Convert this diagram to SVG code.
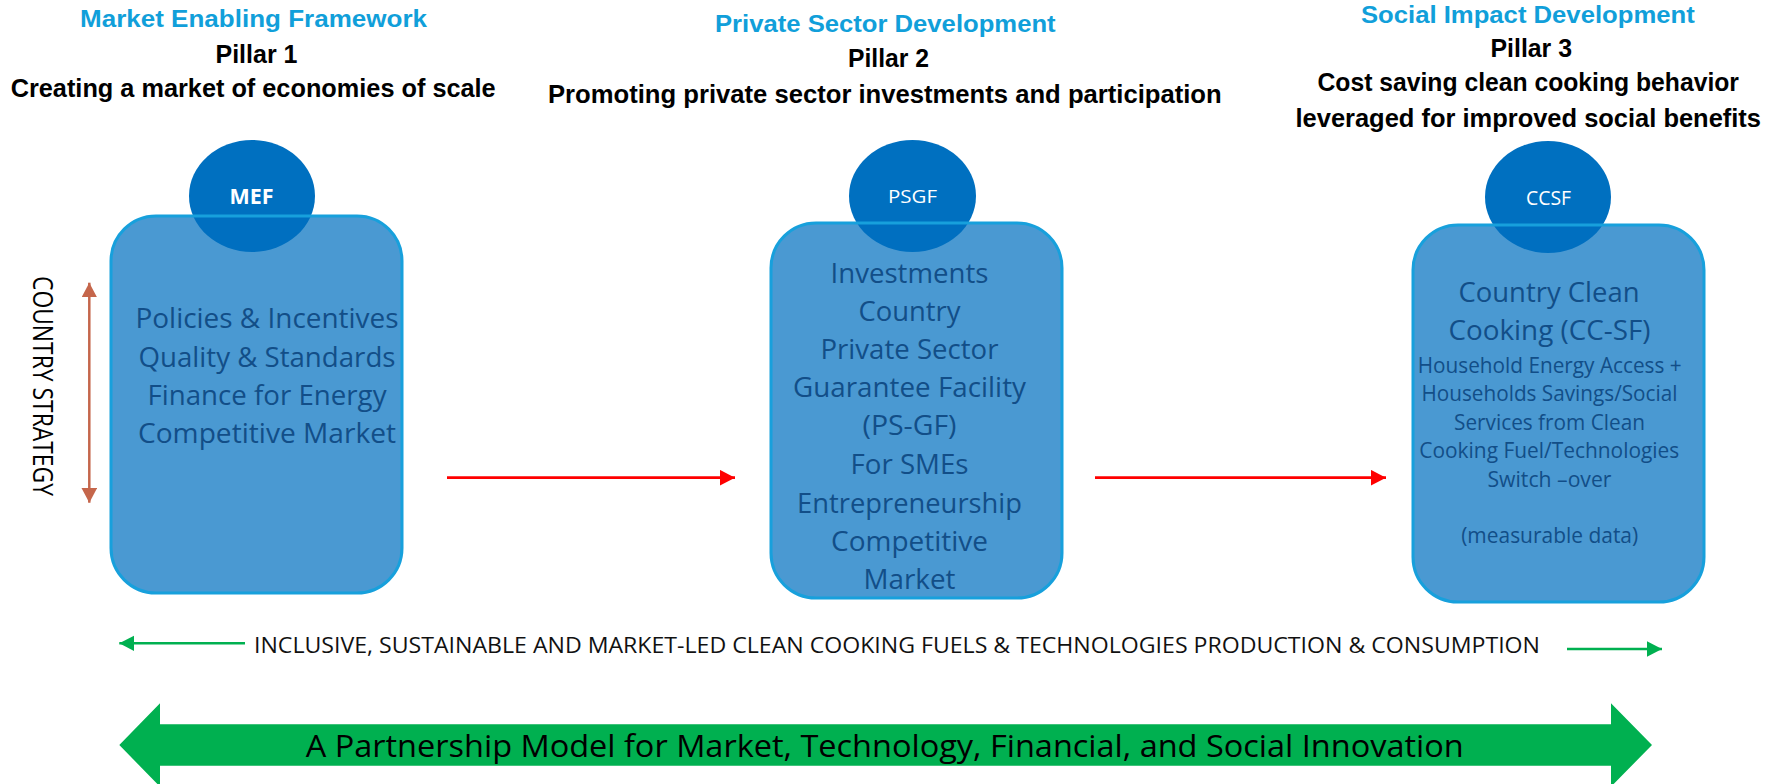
<svg xmlns="http://www.w3.org/2000/svg" width="1779" height="784" viewBox="0 0 1779 784">
<style>
text{font-family:"Open Sans","Noto Sans","Liberation Sans",sans-serif}
.hd{font-family:"Liberation Sans",Arial,sans-serif;font-weight:700;font-size:24.5px;fill:#119fda}
.pl{font-family:"Liberation Sans",Arial,sans-serif;font-weight:700;font-size:25px;fill:#000}
.box{fill:#0070c0;fill-opacity:0.71;stroke:#17a0dc;stroke-width:3}
.circ{fill:#0070c0}
.ctx{fill:#fff;text-anchor:middle}
.bt{font-size:27.5px;fill:#124e88;text-anchor:middle}
.st{font-size:21px;fill:#124e88;text-anchor:middle}
.red{stroke:#ff0000;stroke-width:2.7;fill:none}
.grn{stroke:#00b050;stroke-width:2.6;fill:none}
.brn{stroke:#c5664b;stroke-width:2.5;fill:none}
.lbl{font-size:22px;fill:#111}
</style>
<defs>
<marker id="hRed" markerUnits="userSpaceOnUse" markerWidth="16" markerHeight="16" refX="15" refY="7.8" orient="auto"><path d="M0,0 L15,7.8 L0,15.6 z" fill="#ff0000"/></marker>
<marker id="hGrn" markerUnits="userSpaceOnUse" markerWidth="16" markerHeight="16" refX="15" refY="7.8" orient="auto"><path d="M0,0 L15,7.8 L0,15.6 z" fill="#00b050"/></marker>
<marker id="hBrn" markerUnits="userSpaceOnUse" markerWidth="16" markerHeight="16" refX="14.7" refY="7.8" orient="auto-start-reverse"><path d="M0,0 L14.7,7.8 L0,15.6 z" fill="#c5664b"/></marker>
</defs>

<g id="headers">
<text class="hd" x="80" y="27" textLength="347" lengthAdjust="spacingAndGlyphs">Market Enabling Framework</text>
<text class="pl" x="215.5" y="63" textLength="82" lengthAdjust="spacingAndGlyphs">Pillar 1</text>
<text class="pl" x="10.7" y="97" textLength="485" lengthAdjust="spacingAndGlyphs">Creating a market of economies of scale</text>
<text class="hd" x="715" y="32" textLength="340.6" lengthAdjust="spacingAndGlyphs">Private Sector Development</text>
<text class="pl" x="848" y="67" textLength="81" lengthAdjust="spacingAndGlyphs">Pillar 2</text>
<text class="pl" x="548" y="103" textLength="673.7" lengthAdjust="spacingAndGlyphs">Promoting private sector investments and participation</text>
<text class="hd" x="1361" y="22.5" textLength="333.7" lengthAdjust="spacingAndGlyphs">Social Impact Development</text>
<text class="pl" x="1490.5" y="57" textLength="81.5" lengthAdjust="spacingAndGlyphs">Pillar 3</text>
<text class="pl" x="1739" y="91" text-anchor="end" textLength="421.5" lengthAdjust="spacingAndGlyphs">Cost saving clean cooking behavior</text>
<text class="pl" x="1761" y="127" text-anchor="end" textLength="465.5" lengthAdjust="spacingAndGlyphs">leveraged for improved social benefits</text>
</g>

<g id="country-strategy">
<line class="brn" x1="89.3" y1="282.7" x2="89.3" y2="502.7" marker-start="url(#hBrn)" marker-end="url(#hBrn)"/>
<text transform="translate(33,276) rotate(90)" x="0" y="0" font-size="27" fill="#000" textLength="220" lengthAdjust="spacingAndGlyphs">COUNTRY STRATEGY</text>
</g>

<g id="pillar1">
<ellipse class="circ" cx="252" cy="196" rx="63" ry="56"/>
<text class="ctx" x="251.5" y="204" font-size="21" font-weight="700" textLength="44" lengthAdjust="spacingAndGlyphs">MEF</text>
<rect class="box" x="111" y="216" width="291" height="377" rx="45" ry="45"/>
<text class="bt" x="267" y="328.3" textLength="263" lengthAdjust="spacingAndGlyphs">Policies &amp; Incentives</text>
<text class="bt" x="267" y="366.7" textLength="257" lengthAdjust="spacingAndGlyphs">Quality &amp; Standards</text>
<text class="bt" x="267" y="405" textLength="239" lengthAdjust="spacingAndGlyphs">Finance for Energy</text>
<text class="bt" x="267" y="443.3" textLength="258" lengthAdjust="spacingAndGlyphs">Competitive Market</text>
</g>

<g id="pillar2">
<ellipse class="circ" cx="912.5" cy="196" rx="63.5" ry="56"/>
<text class="ctx" x="912.5" y="203.3" font-size="19" textLength="49" lengthAdjust="spacingAndGlyphs">PSGF</text>
<rect class="box" x="771" y="223" width="291" height="375" rx="45" ry="45"/>
<text class="bt" x="909.5" y="282.7" textLength="158" lengthAdjust="spacingAndGlyphs">Investments</text>
<text class="bt" x="909.5" y="320.7" textLength="102" lengthAdjust="spacingAndGlyphs">Country</text>
<text class="bt" x="909.5" y="359.3" textLength="178" lengthAdjust="spacingAndGlyphs">Private Sector</text>
<text class="bt" x="909.5" y="397.3" textLength="233" lengthAdjust="spacingAndGlyphs">Guarantee Facility</text>
<text class="bt" x="909.5" y="435.3" textLength="94" lengthAdjust="spacingAndGlyphs">(PS-GF)</text>
<text class="bt" x="909.5" y="474" textLength="118" lengthAdjust="spacingAndGlyphs">For SMEs</text>
<text class="bt" x="909.5" y="512.7" textLength="225" lengthAdjust="spacingAndGlyphs">Entrepreneurship</text>
<text class="bt" x="909.5" y="551" textLength="157" lengthAdjust="spacingAndGlyphs">Competitive</text>
<text class="bt" x="909.5" y="589.3" textLength="92" lengthAdjust="spacingAndGlyphs">Market</text>
</g>

<g id="pillar3">
<ellipse class="circ" cx="1548" cy="197" rx="63" ry="56"/>
<text class="ctx" x="1548.5" y="205" font-size="19.5" textLength="45" lengthAdjust="spacingAndGlyphs">CCSF</text>
<rect class="box" x="1413" y="225" width="291" height="377" rx="45" ry="45"/>
<text class="bt" x="1549" y="301.7" textLength="181" lengthAdjust="spacingAndGlyphs">Country Clean</text>
<text class="bt" x="1549.5" y="340" textLength="202" lengthAdjust="spacingAndGlyphs">Cooking (CC-SF)</text>
<text class="st" x="1549.7" y="372.7" textLength="264" lengthAdjust="spacingAndGlyphs">Household Energy Access +</text>
<text class="st" x="1549.5" y="401" textLength="256" lengthAdjust="spacingAndGlyphs">Households Savings/Social</text>
<text class="st" x="1549.5" y="430" textLength="191" lengthAdjust="spacingAndGlyphs">Services from Clean</text>
<text class="st" x="1549.3" y="458.3" textLength="260" lengthAdjust="spacingAndGlyphs">Cooking Fuel/Technologies</text>
<text class="st" x="1549.5" y="487.3" textLength="124" lengthAdjust="spacingAndGlyphs">Switch –over</text>
<text class="st" x="1549.7" y="543.3" textLength="177" lengthAdjust="spacingAndGlyphs">(measurable data)</text>
</g>

<g id="connectors">
<line class="red" x1="447" y1="477.7" x2="735" y2="477.7" marker-end="url(#hRed)"/>
<line class="red" x1="1095" y1="477.7" x2="1386" y2="477.7" marker-end="url(#hRed)"/>
</g>

<g id="bottom-band">
<line class="grn" x1="245" y1="643.3" x2="119.3" y2="643.3" marker-end="url(#hGrn)"/>
<text class="lbl" x="254" y="652.7" textLength="1286" lengthAdjust="spacingAndGlyphs">INCLUSIVE, SUSTAINABLE AND MARKET-LED CLEAN COOKING FUELS &amp; TECHNOLOGIES PRODUCTION &amp; CONSUMPTION</text>
<line class="grn" x1="1567" y1="649" x2="1662" y2="649" marker-end="url(#hGrn)"/>
</g>

<g id="partnership-arrow">
<polygon fill="#00b050" points="119.3,745 160,703.3 160,724.3 1611,724.3 1611,703.3 1652,745 1611,786.7 1611,765.7 160,765.7 160,786.7"/>
<text x="305.7" y="757.3" font-size="30.5" fill="#000" textLength="1158" lengthAdjust="spacingAndGlyphs">A Partnership Model for Market, Technology, Financial, and Social Innovation</text>
</g>
</svg>
